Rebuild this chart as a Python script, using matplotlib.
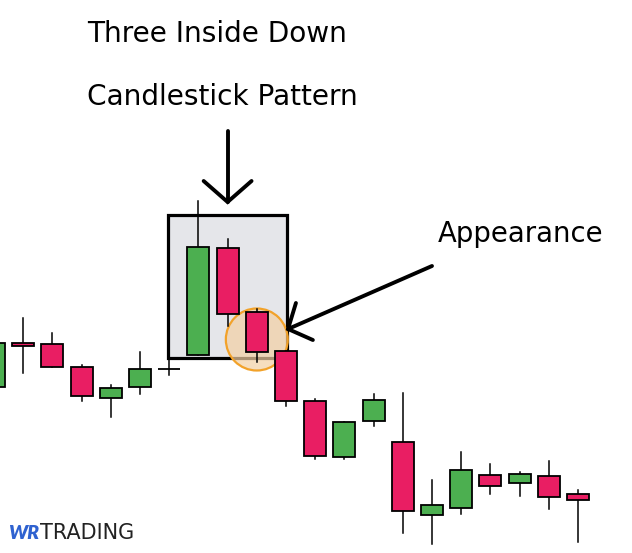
import matplotlib.pyplot as plt
from matplotlib.patches import Rectangle, Ellipse

# datos de las velas (precio = altura en la imagen)
opens = [166, 210, 209, 186, 155, 166, 184, 198, 305, 241, 202, 152, 96, 132, 111, 38, 45, 78, 70, 77, 59]
closes = [210, 207, 186, 157, 165, 184, 184, 306, 239, 201, 152, 97, 131, 153, 42, 48, 83, 67, 79, 56, 53]
highs = [210, 235, 220, 188, 168, 201, 193, 352, 314, 244, 202, 154, 131, 159, 160, 73, 101, 89, 81, 92, 63]
lows = [166, 180, 186, 152, 136, 159, 178, 198, 227, 191, 147, 94, 94, 127, 20, 9, 39, 59, 57, 44, 11]

pattern = [7, 8, 9]
box_low, box_high = 195, 338

title_lines = ["Three Inside Down", "Candlestick Pattern"]
label = "Appearance"

GREEN = "#4caf50"
RED = "#e91e63"

fig = plt.figure(figsize=(6.32, 5.53), dpi=100)
ax = fig.add_axes([0, 0, 1, 1])
ax.set_xlim(0.205, 21.85)
ax.set_ylim(0, 553)
ax.axis("off")

w = 0.75
for i in range(len(opens)):
    o, c, h, l = opens[i], closes[i], highs[i], lows[i]
    color = GREEN if c > o else RED
    ax.plot([i, i], [l, h], color="black", lw=1.1, zorder=3)
    ax.add_patch(Rectangle((i - w / 2, min(o, c)), w, abs(c - o),
                           facecolor=color, edgecolor="black", lw=1.3, zorder=4))

# caja del patron
x0 = pattern[0] - 1.05
x1 = pattern[-1] + 1.05
ax.add_patch(Rectangle((x0, box_low), x1 - x0, box_high - box_low,
                       facecolor="#e5e6ea", edgecolor="black", lw=2.3, zorder=1))

# circulo sobre la tercera vela
ci = pattern[-1]
cy = (highs[ci] + lows[ci]) / 2 - 4
ax.add_patch(Ellipse((ci, cy), 2.12, 62, facecolor="#f3d0a4", alpha=0.7,
                     edgecolor="none", zorder=2))
ax.add_patch(Ellipse((ci, cy), 2.12, 62, facecolor="none",
                     edgecolor="#f2a22a", lw=1.6, zorder=2))

# flecha vertical
ax.plot([8, 8], [422, 351], color="black", lw=2.8, solid_capstyle="round", zorder=5)
ax.plot([8 - 0.82, 8, 8 + 0.82], [372, 351, 372], color="black", lw=2.8,
        solid_capstyle="round", solid_joinstyle="miter", zorder=5)

# flecha diagonal
ax.plot([15.0, 10.07], [287, 224], color="black", lw=2.8, solid_capstyle="round", zorder=5)
ax.plot([10.34, 10.07, 10.92], [250, 224, 213], color="black", lw=2.8,
        solid_capstyle="round", solid_joinstyle="miter", zorder=5)

fs = 20.2
fig.text(87 / 632, 1 - 42 / 553, title_lines[0], fontsize=fs, family="DejaVu Sans", va="baseline")
fig.text(87 / 632, 1 - 105 / 553, title_lines[1], fontsize=fs, family="DejaVu Sans", va="baseline")
fig.text(438 / 632, 1 - 242 / 553, label, fontsize=19.8, family="DejaVu Sans", va="baseline")

# logo
fig.text(8 / 632, 1 - 539 / 553, "WR", fontsize=14, family="Lato", weight="heavy",
         style="italic", color="#2f62d0", va="baseline")
fig.text(40 / 632, 1 - 539 / 553, "TRADING", fontsize=15, family="DejaVu Sans",
         color="#222222", va="baseline")

fig.savefig("out.png", dpi=100)
